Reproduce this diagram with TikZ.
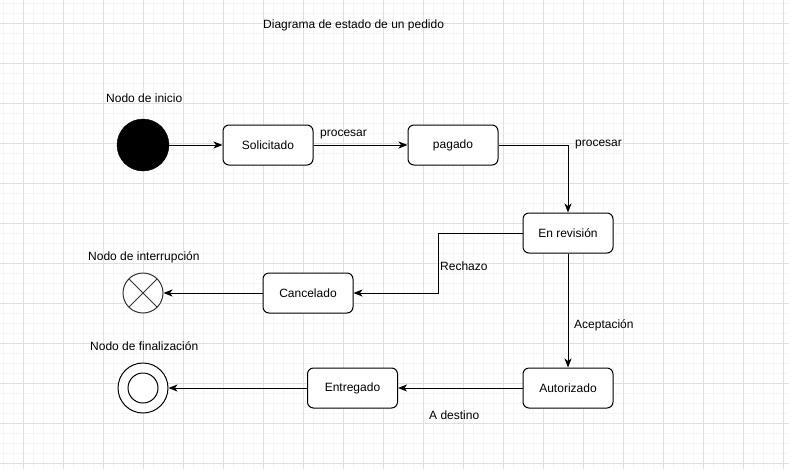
\documentclass[tikz,border=0pt]{standalone}
\usepackage{fontspec}
\setmainfont{Liberation Sans}
\usetikzlibrary{arrows.meta}
\begin{document}
\begin{tikzpicture}[x=1pt,y=-1pt,
  every node/.style={font=\fontsize{12}{14}\selectfont, text=black},
  state/.style={draw=black, line width=1pt, rounded corners=6pt, minimum width=90pt, minimum height=40pt, inner sep=0pt, fill=white},
  lbl/.style={anchor=west, inner sep=0pt},
  conn/.style={draw=black, line width=1pt, -{Stealth[length=9pt,width=7pt,inset=2.5pt]}}
]
\useasboundingbox (0,0) rectangle (789,469);
\fill[white] (0,0) rectangle (789,469);
\foreach \i in {3,13,...,783} {
  \draw[color=black!4, line width=1pt] (\i,0) -- (\i,469);
}
\foreach \j in {3,13,...,463} {
  \draw[color=black!4, line width=1pt] (0,\j) -- (789,\j);
}
\foreach \i in {23,63,...,783} {
  \draw[color=black!12, line width=1pt] (\i,0) -- (\i,469);
}
\foreach \j in {23,63,...,463} {
  \draw[color=black!12, line width=1pt] (0,\j) -- (789,\j);
}

\node[lbl] (title) at (263,25) {Diagrama de estado de un pedido};
\node[lbl] (linicio) at (106,98) {Nodo de inicio};
\node[lbl] (linterr) at (88,257) {Nodo de interrupción};
\node[lbl] (lfin) at (90,346) {Nodo de finalización};

\node[circle, fill=black, draw=black, minimum size=52pt, inner sep=0pt] (inicio) at (143,145) {};
\node[state] (sol) at (268,145) {Solicitado};
\node[state] (pag) at (453,145) {pagado};
\node[state] (rev) at (568,233) {En revisión};
\node[state] (can) at (308,293) {Cancelado};
\node[state] (aut) at (568,388) {Autorizado};
\node[state] (ent) at (352.5,388) {Entregado};
\node[circle, draw=black!80, fill=white, line width=1pt, minimum size=40pt, inner sep=0pt] (interr) at (143,293) {};
\draw[black!80, line width=1pt] ([shift={(-14.14,-14.14)}]interr.center) -- ([shift={(14.14,14.14)}]interr.center);
\draw[black!80, line width=1pt] ([shift={(-14.14,14.14)}]interr.center) -- ([shift={(14.14,-14.14)}]interr.center);
\node[circle, draw=black, fill=white, line width=1pt, minimum size=50pt, inner sep=0pt] (fin) at (143,388) {};
\node[circle, draw=black, line width=1pt, minimum size=30pt, inner sep=0pt] (finin) at (143,388) {};

\draw[conn] (inicio) -- (sol);
\draw[conn] (sol) -- (pag);
\draw[conn] (pag.east) -| (rev.north);
\draw[conn] (rev.west) -- (438,233) -- (438,293) -- (can.east);
\draw[conn] (can) -- (interr);
\draw[conn] (rev) -- (aut);
\draw[conn] (aut) -- (ent);
\draw[conn] (ent) -- (fin);

\node[lbl] (p1) at (320,135) {procesar};
\node[lbl] (p2) at (575,145) {procesar};
\node[lbl] (rech) at (440,266) {Rechazo};
\node[lbl] (acep) at (574,325) {Aceptación};
\node[lbl] (dest) at (429,415) {A destino};
\end{tikzpicture}
\end{document}
